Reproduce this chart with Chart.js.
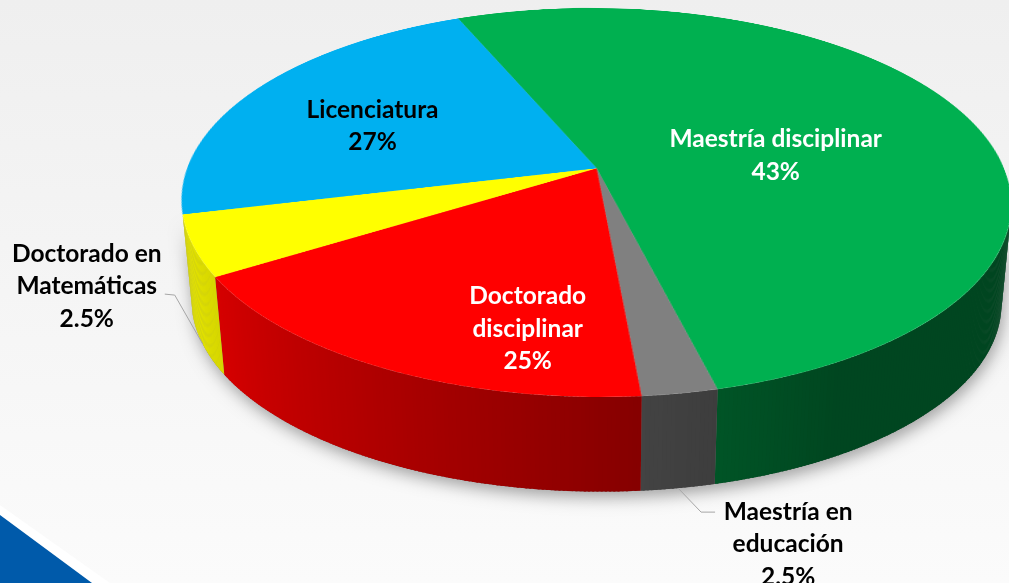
<!DOCTYPE html>
<html>
<head>
<meta charset="utf-8">
<script src="https://cdn.jsdelivr.net/npm/chart.js@4.4.0/dist/chart.umd.min.js"></script>
<style>
  html, body { margin: 0; padding: 0; overflow: hidden; background: #f4f4f4; }
  #stage { position: relative; width: 1009px; height: 583px; overflow: hidden; }
  #stage canvas { position: absolute; left: 0; top: 0; }
  #pie { transform-origin: 0 0; }
</style>
</head>
<body>
<div id="stage">
  <canvas id="back" width="1009" height="583"></canvas>
  <canvas id="pie" width="800" height="800"></canvas>
  <canvas id="front" width="1009" height="583"></canvas>
</div>
<script>
const categories = ['Maestría disciplinar', 'Maestría en educación', 'Doctorado disciplinar', 'Doctorado en Matemáticas', 'Licenciatura'];
// slice sizes as drawn in the picture (the printed percentages do not match the drawn slices)
const shares = [52.5, 2.5, 17.5, 5, 22.5];
const percentLabels = ['43%', '2.5%', '25%', '2.5%', '27%'];
const nameLines = [['Maestría disciplinar'], ['Maestría en', 'educación'], ['Doctorado', 'disciplinar'], ['Doctorado en', 'Matemáticas'], ['Licenciatura']];
const sliceColors = ['#00b050', '#808080', '#ff0000', '#ffff00', '#00b0f0'];
const firstSliceAngle = -23.4;

// 3d view of the pie: apex, radii, perspective, roll, thickness
const view = { cx: 596.7, cy: 168.3, rx: 408.5, ry: 188.5, k: 0.176, roll: 0.4 * Math.PI / 180, depth: 100, shrink: 0.976 };

// label placement: inside ones by radius fraction + angle shift, outside ones by leader offsets
const labelPlace = [
  { r: 0.45, shift: 9.3, color: '#ffffff' },
  { leader: [[23, 24], [37, 24]], text: [73, 32], color: '#000000' },
  { r: 0.757, shift: -15.1, color: '#ffffff' },
  { leader: [[-28, -49], [-38, -50]], text: [-78, -8], color: '#000000' },
  { r: 0.614, shift: -4.6, color: '#000000' }
];

function proj(phi, r) {
  const u = r * Math.cos(phi), w = -r * Math.sin(phi);
  const d = 1 + view.k * w;
  const X = view.rx * u / d, Y = -view.ry * w / d;
  const c = Math.cos(view.roll), s = Math.sin(view.roll);
  return [view.cx + c * X - s * Y, view.cy + s * X + c * Y];
}

function projLow(phi, r) {
  const p = proj(phi, r);
  return [view.cx + view.shrink * (p[0] - view.cx), view.cy + view.depth + view.shrink * (p[1] - view.cy)];
}

function hexToRgb(h) {
  return [parseInt(h.slice(1, 3), 16), parseInt(h.slice(3, 5), 16), parseInt(h.slice(5, 7), 16)];
}

function shadeFactor(phi) {
  let a = phi * 180 / Math.PI + 90;
  a = ((a % 360) + 360) % 360;
  const t = Math.min(1, Math.max(0, (a - 150) / 100));
  return 0.40 + 0.50 * t;
}

// visible part of the wall (left end trimmed a little, as in the source)
const v0 = Math.asin(view.k), v1 = Math.PI - v0 - 0.08;

function visiblePart(s, e) {
  for (const off of [-2 * Math.PI, 0, 2 * Math.PI]) {
    const a = Math.max(s + off, v0), b = Math.min(e + off, v1);
    if (b > a) return [a, b];
  }
  return null;
}

function setPieTransform(canvas, arc) {
  const R = arc.outerRadius, ax = arc.x, ay = arc.y;
  const c = Math.cos(view.roll), s = Math.sin(view.roll);
  const kr = view.k / R;
  const a = c * view.rx / R;
  const b = -view.cx * kr - s * view.ry / R;
  const c0 = view.cx - a * ax - b * ay;
  const d = s * view.rx / R;
  const e = -view.cy * kr + c * view.ry / R;
  const f = view.cy - d * ax - e * ay;
  const h = -kr;
  const i = 1 + kr * ay;
  canvas.style.transform = `matrix3d(${a},${d},0,0,${b},${e},0,${h},0,0,1,0,${c0},${f},0,${i})`;
}

function drawBack(arcs) {
  const cv = document.getElementById('back');
  const ctx = cv.getContext('2d');
  ctx.clearRect(0, 0, cv.width, cv.height);

  const bg = ctx.createLinearGradient(0, 0, 0, cv.height);
  bg.addColorStop(0, '#efefef');
  bg.addColorStop(1, '#fbfbfb');
  ctx.fillStyle = bg;
  ctx.fillRect(0, 0, cv.width, cv.height);

  // corner decoration
  ctx.fillStyle = '#ffffff';
  ctx.beginPath(); ctx.moveTo(0, 505); ctx.lineTo(110, 583); ctx.lineTo(0, 583); ctx.closePath(); ctx.fill();
  ctx.fillStyle = '#005aaa';
  ctx.beginPath(); ctx.moveTo(0, 515); ctx.lineTo(92, 583); ctx.lineTo(0, 583); ctx.closePath(); ctx.fill();

  // soft shadow under the side wall
  ctx.save();
  ctx.shadowColor = 'rgba(0,0,0,0.35)';
  ctx.shadowBlur = 16;
  ctx.shadowOffsetX = 2;
  ctx.shadowOffsetY = 6;
  ctx.fillStyle = '#777';
  ctx.beginPath();
  const n = 180;
  for (let j = 0; j <= n; j++) {
    const p = proj(v0 + (v1 - v0) * j / n, 1);
    j ? ctx.lineTo(p[0], p[1]) : ctx.moveTo(p[0], p[1]);
  }
  for (let j = n; j >= 0; j--) {
    const p = projLow(v0 + (v1 - v0) * j / n, 1);
    ctx.lineTo(p[0], p[1]);
  }
  ctx.closePath();
  ctx.fill();
  ctx.restore();

  // side walls
  const step = Math.PI / 360;
  arcs.forEach((arc, i) => {
    const part = visiblePart(arc.startAngle, arc.endAngle);
    if (!part) return;
    const rgb = hexToRgb(sliceColors[i]);
    for (let a = part[0]; a < part[1]; a += step) {
      const b = Math.min(a + step * 1.5, part[1]);
      const f = shadeFactor(a + step / 2);
      ctx.fillStyle = `rgb(${rgb.map(v => Math.round(v * f)).join(',')})`;
      const t0 = proj(a, 1), t1 = proj(b, 1), l1 = projLow(b, 1), l0 = projLow(a, 1);
      ctx.beginPath();
      ctx.moveTo(t0[0], t0[1]);
      ctx.lineTo(t1[0], t1[1]);
      ctx.lineTo(l1[0], l1[1]);
      ctx.lineTo(l0[0], l0[1]);
      ctx.closePath();
      ctx.fill();
    }
  });
}

function drawFront(arcs) {
  const cv = document.getElementById('front');
  const ctx = cv.getContext('2d');
  ctx.clearRect(0, 0, cv.width, cv.height);
  ctx.font = 'bold 24.5px Lato';
  ctx.textAlign = 'center';
  ctx.textBaseline = 'middle';
  const lineH = 32.5;

  arcs.forEach((arc, i) => {
    const pl = labelPlace[i];
    const mid = (arc.startAngle + arc.endAngle) / 2;
    let cx, cy;
    if (pl.leader) {
      const s = projLow(mid, 1);
      const p1 = [s[0] + pl.leader[0][0], s[1] + pl.leader[0][1]];
      const p2 = [s[0] + pl.leader[1][0], s[1] + pl.leader[1][1]];
      ctx.strokeStyle = '#a6a6a6';
      ctx.lineWidth = 1;
      ctx.beginPath();
      ctx.moveTo(s[0], s[1]);
      ctx.lineTo(p1[0], p1[1]);
      ctx.lineTo(p2[0], p2[1]);
      ctx.stroke();
      cx = p2[0] + pl.text[0];
      cy = p2[1] + pl.text[1];
    } else {
      const p = proj(mid + pl.shift * Math.PI / 180, pl.r);
      cx = p[0]; cy = p[1];
    }
    const lines = nameLines[i].concat([percentLabels[i]]);
    ctx.fillStyle = pl.color;
    lines.forEach((t, j) => {
      ctx.fillText(t, cx, cy + (j - (lines.length - 1) / 2) * lineH);
    });
  });
}

const pie3d = {
  id: 'pie3d',
  afterDraw(chart) {
    const arcs = chart.getDatasetMeta(0).data;
    if (!arcs.length) return;
    setPieTransform(chart.canvas, arcs[0]);
    drawBack(arcs);
    drawFront(arcs);
  }
};

const chart = new Chart(document.getElementById('pie'), {
  type: 'pie',
  data: {
    labels: categories,
    datasets: [{ data: shares, backgroundColor: sliceColors, borderWidth: 0 }]
  },
  options: {
    responsive: false,
    animation: false,
    devicePixelRatio: 2,
    rotation: firstSliceAngle,
    layout: { padding: 0 },
    events: [],
    plugins: { legend: { display: false }, tooltip: { enabled: false } }
  },
  plugins: [pie3d]
});
</script>
</body>
</html>
